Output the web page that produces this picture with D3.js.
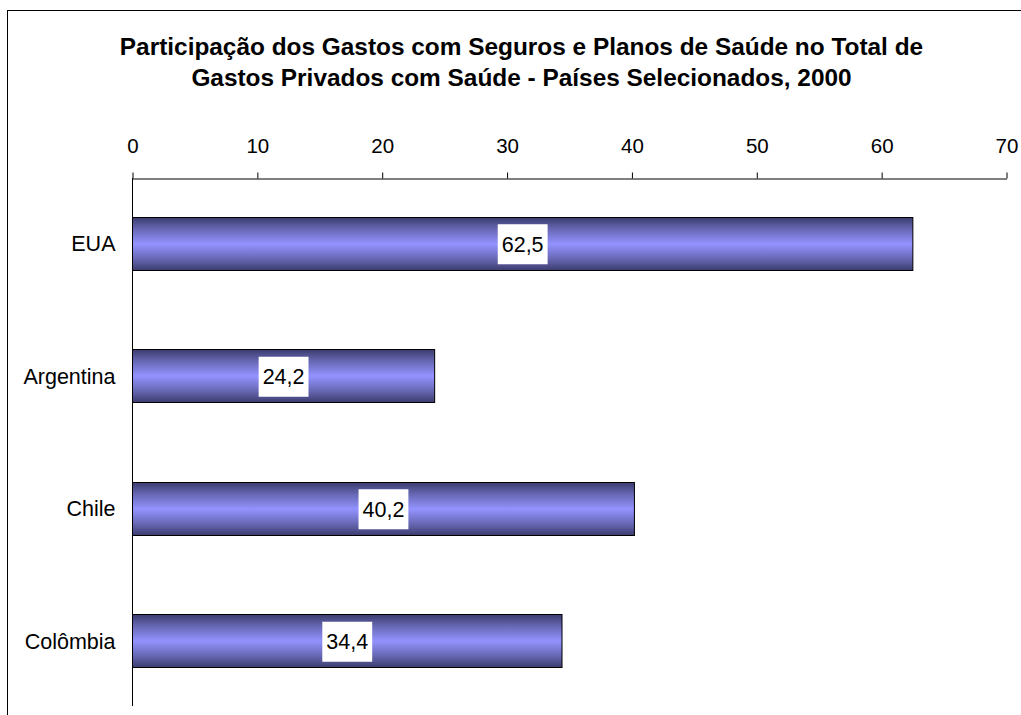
<!DOCTYPE html>
<html><head><meta charset="utf-8">
<script src="https://cdn.jsdelivr.net/npm/d3@7"></script>
<style>body{margin:0;background:#fff;} svg{display:block;font-family:"Liberation Sans",Arial,sans-serif;}</style>
</head><body>
<svg id="c" width="1021" height="715"></svg>
<script>
const categories = ["EUA", "Argentina", "Chile", "Colômbia"];
const values = [62.5, 24.2, 40.2, 34.4];
const valueLabels = ["62,5", "24,2", "40,2", "34,4"];
const tickValues = [0, 10, 20, 30, 40, 50, 60, 70];
const titleLines = ["Participação dos Gastos com Seguros e Planos de Saúde no Total de", "Gastos Privados com Saúde - Países Selecionados, 2000"];

const svg = d3.select("#c");
const defs = svg.append("defs");
const g = defs.append("linearGradient").attr("id","barGrad").attr("x1",0).attr("y1",0).attr("x2",0).attr("y2",1);
g.append("stop").attr("offset","0%").attr("stop-color","#3c3c6e");
g.append("stop").attr("offset","22%").attr("stop-color","#6767b4");
g.append("stop").attr("offset","50%").attr("stop-color","#9393ff");
g.append("stop").attr("offset","78%").attr("stop-color","#6767b4");
g.append("stop").attr("offset","100%").attr("stop-color","#3c3c6e");

// outer border
svg.append("rect").attr("x",7.5).attr("y",10.5).attr("width",1030).attr("height",720)
  .attr("fill","none").attr("stroke","#000").attr("stroke-width",1);

svg.selectAll("text.title").data(titleLines).enter().append("text")
  .attr("x",521.5).attr("y",(d,i)=>55+i*31).attr("text-anchor","middle")
  .attr("font-weight","bold").attr("font-size",24.4).attr("fill","#000").text(d=>d);

const x = d3.scaleLinear().domain([0,70]).range([132.5,1006.5]);
const y = d3.scaleBand().domain(categories).range([178,708]).paddingInner(0.6).paddingOuter(0.3);

const xAxis = d3.axisTop(x).tickValues(tickValues).tickSize(6).tickSizeOuter(0).tickPadding(20).tickFormat(d3.format("d"));
const xg = svg.append("g").attr("transform","translate(0,178.5)").call(xAxis);
xg.select(".domain").attr("stroke","#000");
xg.selectAll(".tick line").attr("stroke","#000");
xg.selectAll("text").attr("font-size",20.5).attr("fill","#000").attr("font-family","Liberation Sans, Arial, sans-serif");

const yg = svg.append("g").attr("transform","translate(132.5,0)")
  .call(d3.axisLeft(y).tickSize(0).tickPadding(17).tickSizeOuter(0));
yg.select(".domain").attr("stroke","#000").attr("d","M0,178V706");
yg.selectAll("text").attr("font-size",21.5).attr("fill","#000").attr("font-family","Liberation Sans, Arial, sans-serif");

const data = categories.map((c,i)=>({c, v:values[i], l:valueLabels[i]}));
svg.selectAll("rect.bar").data(data).enter().append("rect")
  .attr("x",x(0)).attr("y",d=>Math.round(y(d.c))-0.5)
  .attr("width",d=>x(d.v)-x(0)).attr("height",Math.round(y.bandwidth()))
  .attr("fill","url(#barGrad)").attr("stroke","#000").attr("stroke-width",1);

const lg = svg.selectAll("g.lab").data(data).enter().append("g");
lg.each(function(d){
  const gg = d3.select(this);
  const cx = (x(0)+x(d.v))/2, cy = y(d.c)+y.bandwidth()/2;
  const r = gg.append("rect");
  const t = gg.append("text").attr("x",cx).attr("y",cy).attr("dy","0.36em")
    .attr("text-anchor","middle").attr("font-size",21.5).attr("fill","#000").text(d.l);
  const bb = t.node().getBBox();
  r.attr("x",cx-bb.width/2-4).attr("y",cy-20).attr("width",bb.width+8).attr("height",40).attr("fill","#fff");
});
</script>
</body></html>
